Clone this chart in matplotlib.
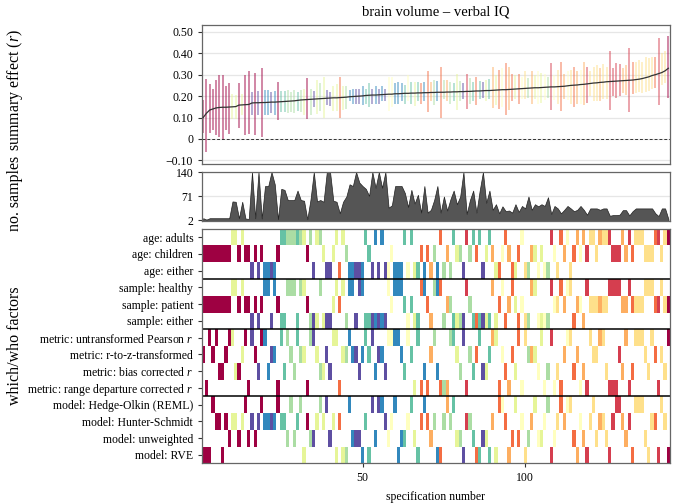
import numpy as np
import pandas as pd
import matplotlib
matplotlib.use("Agg")
import matplotlib.pyplot as plt

plt.rcParams["font.family"] = "serif"
plt.rcParams["font.serif"] = ["Liberation Serif", "DejaVu Serif"]
plt.rcParams["mathtext.fontset"] = "custom"
plt.rcParams["mathtext.rm"] = "Liberation Serif"
plt.rcParams["mathtext.it"] = "Liberation Serif:italic"
plt.rcParams["xtick.labelsize"] = 8.5
plt.rcParams["ytick.labelsize"] = 8.5

spec = np.arange(1, 145)

# summary effect (r) per specification, sorted
effect = [0.100, 0.120, 0.135, 0.140, 0.145, 0.147, 0.148, 0.148, 0.149, 0.150,
          0.151, 0.158, 0.159, 0.160, 0.161, 0.168, 0.169, 0.169, 0.170, 0.170,
          0.171, 0.172, 0.172, 0.173, 0.174, 0.175, 0.176, 0.177, 0.178, 0.180,
          0.182, 0.183, 0.184, 0.185, 0.186, 0.187, 0.188, 0.189, 0.190, 0.191,
          0.192, 0.192, 0.193, 0.194, 0.195, 0.197, 0.198, 0.199, 0.200, 0.201,
          0.203, 0.204, 0.205, 0.205, 0.206, 0.207, 0.208, 0.209, 0.209, 0.211,
          0.211, 0.212, 0.213, 0.213, 0.214, 0.214, 0.215, 0.215, 0.216, 0.216,
          0.217, 0.217, 0.218, 0.218, 0.218, 0.219, 0.219, 0.220, 0.220, 0.221,
          0.221, 0.222, 0.222, 0.223, 0.224, 0.224, 0.225, 0.226, 0.226, 0.227,
          0.228, 0.229, 0.230, 0.230, 0.231, 0.232, 0.233, 0.234, 0.235, 0.236,
          0.237, 0.238, 0.239, 0.239, 0.240, 0.241, 0.242, 0.243, 0.243, 0.244,
          0.245, 0.246, 0.248, 0.250, 0.251, 0.252, 0.254, 0.255, 0.257, 0.259,
          0.261, 0.262, 0.264, 0.265, 0.267, 0.268, 0.269, 0.270, 0.271, 0.272,
          0.273, 0.274, 0.275, 0.277, 0.279, 0.282, 0.286, 0.290, 0.296, 0.300,
          0.305, 0.310, 0.318, 0.330]

ci_lo = [0.03, -0.06, 0.03, 0.04, 0.02, 0.01, 0.00, 0.04, 0.025, 0.095,
         0.095, 0.05, 0.11, 0.02, 0.025, 0.11, 0.02, 0.11, 0.01, 0.11,
         0.11, 0.12, 0.11, 0.09, 0.125, 0.125, 0.12, 0.125, 0.12, 0.13,
         0.125, 0.11, 0.095, 0.11, 0.15, 0.115, 0.13, 0.10, 0.16, 0.155,
         0.13, 0.13, 0.10, 0.135, 0.14, 0.175, 0.165, 0.165, 0.165, 0.16,
         0.165, 0.15, 0.165, 0.165, 0.165, 0.175, 0.175, 0.13, 0.15, 0.165,
         0.165, 0.175, 0.165, 0.175, 0.165, 0.155, 0.175, 0.165, 0.175, 0.125,
         0.175, 0.16, 0.175, 0.10, 0.185, 0.175, 0.165, 0.175, 0.135, 0.175,
         0.185, 0.14, 0.165, 0.175, 0.16, 0.185, 0.19, 0.175, 0.185, 0.145,
         0.16, 0.14, 0.15, 0.11, 0.135, 0.175, 0.185, 0.165, 0.185, 0.185,
         0.19, 0.165, 0.185, 0.165, 0.17, 0.18, 0.19, 0.135, 0.18, 0.165,
         0.13, 0.185, 0.18, 0.165, 0.15, 0.165, 0.165, 0.16, 0.17, 0.20,
         0.175, 0.175, 0.175, 0.185, 0.185, 0.135, 0.20, 0.19, 0.20, 0.215,
         0.205, 0.125, 0.21, 0.215, 0.22, 0.215, 0.22, 0.225, 0.235, 0.24,
         0.16, 0.25, 0.26, 0.19]

ci_hi = [0.18, 0.28, 0.255, 0.235, 0.275, 0.30, 0.30, 0.245, 0.26, 0.21,
         0.205, 0.26, 0.21, 0.30, 0.315, 0.22, 0.31, 0.225, 0.33, 0.23,
         0.23, 0.22, 0.225, 0.265, 0.225, 0.225, 0.23, 0.22, 0.23, 0.22,
         0.23, 0.235, 0.285, 0.235, 0.225, 0.275, 0.26, 0.29, 0.23, 0.22,
         0.245, 0.255, 0.29, 0.245, 0.245, 0.23, 0.235, 0.235, 0.235, 0.245,
         0.235, 0.26, 0.235, 0.245, 0.235, 0.245, 0.235, 0.29, 0.29, 0.26,
         0.265, 0.26, 0.25, 0.30, 0.265, 0.265, 0.265, 0.26, 0.265, 0.315,
         0.265, 0.275, 0.27, 0.335, 0.275, 0.275, 0.265, 0.26, 0.305, 0.27,
         0.26, 0.305, 0.285, 0.265, 0.29, 0.27, 0.265, 0.275, 0.28, 0.335,
         0.30, 0.32, 0.33, 0.355, 0.335, 0.305, 0.30, 0.305, 0.29, 0.315,
         0.285, 0.315, 0.30, 0.315, 0.31, 0.305, 0.29, 0.355, 0.30, 0.32,
         0.36, 0.305, 0.315, 0.32, 0.335, 0.315, 0.32, 0.36, 0.335, 0.315,
         0.335, 0.345, 0.33, 0.35, 0.335, 0.41, 0.33, 0.355, 0.35, 0.33,
         0.345, 0.425, 0.36, 0.36, 0.368, 0.36, 0.384, 0.376, 0.384, 0.384,
         0.47, 0.40, 0.41, 0.48]

# number of samples per specification
n_samples = [8, 4, 8, 8, 8, 8, 8, 8, 8, 56,
             55, 8, 55, 7, 6, 140, 8, 140, 7, 100,
             100, 140, 105, 5, 92, 89, 60, 60, 60, 87,
             60, 58, 5, 62, 140, 56, 60, 55, 140, 140,
             58, 55, 22, 55, 70, 105, 100, 140, 110, 100,
             92, 72, 140, 95, 140, 95, 140, 38, 45, 100,
             100, 100, 80, 40, 89, 50, 75, 24, 100, 24,
             32, 60, 100, 24, 70, 30, 62, 87, 48, 70,
             140, 20, 60, 87, 24, 87, 140, 52, 87, 32,
             48, 22, 42, 28, 30, 24, 48, 26, 43, 36,
             70, 32, 48, 42, 48, 43, 68, 20, 43, 36,
             22, 32, 43, 36, 28, 32, 43, 32, 18, 36,
             36, 36, 32, 36, 36, 15, 17, 17, 18, 31,
             31, 16, 28, 36, 36, 36, 36, 36, 36, 22,
             14, 36, 36, 6]

# which/who factor levels per specification
age = [1, 1, 1, 1, 1, 1, 1, 1, 1, 0,
       0, 1, 0, 1, 1, 2, 1, 2, 1, 2,
       2, 2, 2, 1, 0, 0, 0, 0, 0, 0,
       0, 0, 1, 0, 2, 0, 0, 1, 2, 2,
       1, 0, 2, 0, 1, 2, 2, 2, 2, 2,
       0, 1, 2, 0, 2, 0, 2, 2, 1, 2,
       2, 2, 0, 2, 0, 2, 2, 1, 2, 1,
       2, 1, 2, 0, 2, 1, 2, 0, 1, 1,
       2, 0, 1, 0, 1, 0, 2, 1, 0, 1,
       2, 2, 1, 0, 1, 2, 2, 1, 0, 2,
       2, 1, 1, 2, 1, 2, 2, 0, 1, 2,
       0, 1, 0, 2, 1, 0, 1, 0, 1, 0,
       0, 1, 0, 0, 0, 0, 1, 1, 1, 0,
       1, 0, 1, 0, 0, 0, 1, 1, 1, 0,
       0, 1, 0, 0]

sample = [1, 1, 1, 1, 1, 1, 1, 1, 1, 0,
          0, 1, 0, 1, 1, 2, 1, 2, 1, 0,
          0, 2, 0, 1, 2, 2, 0, 0, 0, 2,
          0, 0, 1, 2, 2, 2, 0, 2, 2, 2,
          1, 0, 1, 0, 2, 0, 0, 2, 0, 0,
          2, 2, 2, 2, 2, 2, 2, 0, 1, 0,
          0, 0, 1, 2, 1, 2, 2, 0, 0, 1,
          2, 0, 0, 0, 2, 1, 1, 2, 2, 2,
          2, 0, 1, 2, 2, 2, 2, 2, 2, 0,
          2, 1, 0, 2, 1, 0, 1, 2, 1, 2,
          2, 0, 0, 2, 2, 2, 2, 0, 1, 1,
          0, 1, 0, 0, 2, 1, 1, 2, 0, 1,
          1, 1, 1, 1, 1, 0, 0, 0, 0, 1,
          1, 0, 1, 1, 1, 1, 0, 0, 0, 1,
          1, 0, 1, 1]

metric = [1, 3, 0, 1, 0, 2, 2, 1, 0, 0,
          2, 2, 1, 0, 3, 0, 1, 2, 0, 0,
          2, 1, 1, 3, 0, 2, 0, 1, 2, 0,
          1, 1, 3, 0, 0, 1, 2, 2, 1, 2,
          0, 0, 3, 1, 1, 0, 1, 1, 2, 1,
          0, 1, 0, 2, 1, 1, 2, 0, 0, 0,
          0, 1, 2, 0, 1, 3, 0, 3, 2, 3,
          1, 0, 2, 3, 3, 3, 0, 0, 1, 2,
          0, 3, 1, 2, 1, 0, 2, 2, 1, 0,
          0, 3, 1, 2, 3, 1, 2, 0, 3, 0,
          1, 1, 1, 2, 0, 3, 2, 0, 3, 2,
          3, 1, 0, 0, 2, 1, 3, 2, 3, 0,
          1, 1, 0, 0, 2, 3, 3, 3, 1, 2,
          0, 3, 2, 0, 0, 0, 1, 2, 0, 1,
          3, 1, 2, 0]

model = [3, 3, 3, 0, 1, 1, 3, 1, 2, 1,
         1, 2, 1, 0, 2, 1, 2, 1, 0, 1,
         1, 1, 1, 0, 1, 1, 2, 0, 2, 1,
         0, 3, 1, 2, 2, 1, 0, 1, 0, 2,
         1, 3, 1, 3, 3, 0, 2, 2, 2, 3,
         1, 3, 0, 2, 0, 0, 1, 2, 1, 0,
         3, 2, 2, 1, 0, 2, 3, 1, 0, 1,
         2, 1, 3, 3, 1, 0, 1, 0, 2, 2,
         3, 1, 1, 2, 3, 3, 2, 2, 3, 1,
         3, 0, 0, 1, 3, 2, 0, 2, 1, 3,
         2, 1, 0, 2, 2, 1, 0, 3, 2, 1,
         0, 1, 0, 0, 2, 3, 1, 2, 3, 1,
         0, 2, 1, 1, 2, 3, 1, 0, 0, 1,
         2, 1, 3, 0, 0, 0, 2, 3, 1, 1,
         3, 0, 1, 3]

row_labels = ["age: adults", "age: children", "age: either",
              "sample: healthy", "sample: patient", "sample: either",
              "metric: untransformed Pearson $r$", "metric: r-to-z-transformed",
              "metric: bias corrected $r$", "metric: range departure corrected $r$",
              "model: Hedge-Olkin (REML)", "model: Hunter-Schmidt",
              "model: unweighted", "model: RVE"]

groups = [age, sample, metric, model]
group_start = [0, 3, 6, 10]

# colour each specification by the rank of its number of samples
rank = pd.Series(n_samples).rank(method="average").values
frac = (rank - 1) / (len(rank) - 1)
cmap = plt.get_cmap("Spectral", 11)
colors = cmap(frac)
ci_colors = colors.copy()
ci_colors[:, 3] = 0.6

fig = plt.figure(figsize=(6.73, 5.04), dpi=100)
left, width = 0.2995, 0.696
ax1 = fig.add_axes([left, 0.675, width, 0.275])
ax2 = fig.add_axes([left, 0.5615, width, 0.0978])
ax3 = fig.add_axes([left, 0.0807, width, 0.4655])

# top: summary effects with confidence intervals
ax1.vlines(spec, ci_lo, ci_hi, colors=ci_colors, lw=1.1, zorder=2)
ax1.plot(spec, effect, color="#333333", lw=0.9, zorder=3)
ax1.axhline(0, color="#333333", lw=0.7, ls=(0, (3, 2)), zorder=1)
ax1.set_xlim(0.5, 144.5)
ax1.set_ylim(-0.116, 0.531)
yt = [-0.1, 0, 0.1, 0.2, 0.3, 0.4, 0.5]
ax1.set_yticks(yt)
ax1.set_yticklabels(["\u22120.10", "0", "0.10", "0.20", "0.30", "0.40", "0.50"])
ax1.set_xticks([])
ax1.yaxis.grid(True, color="#e6e6e6", lw=0.9)
ax1.set_axisbelow(True)
ax1.set_title("brain volume \u2013 verbal IQ", fontsize=10.5, pad=7)

# middle: number of samples
ax2.fill_between(spec, n_samples, 0, facecolor="#555555", edgecolor="#222222", lw=0.5, zorder=2)
ax2.set_xlim(0.5, 144.5)
ax2.set_ylim(0, 141)
ax2.set_yticks([2, 71, 140])
ax2.set_xticks([])
ax2.yaxis.grid(True, color="#e6e6e6", lw=0.9)
ax2.set_axisbelow(True)

# bottom: which/who factor matrix
for levels, start in zip(groups, group_start):
    rows = start + np.array(levels)
    ax3.bar(spec, 1, bottom=rows - 0.5, width=1, color=colors, lw=0)
for b in [2.5, 5.5, 9.5]:
    ax3.axhline(b, color="black", lw=1.1)
ax3.set_xlim(0.5, 144.5)
ax3.set_ylim(13.5, -0.5)
ax3.set_yticks(range(len(row_labels)))
ax3.set_yticklabels(row_labels)
ax3.set_xticks([50, 100])
ax3.set_xlabel("specification number", fontsize=8.5, labelpad=5)

for ax in [ax1, ax2, ax3]:
    for s in ax.spines.values():
        s.set_color("#666666")
        s.set_linewidth(0.9)
    ax.tick_params(length=3, width=0.8, color="#333333", pad=3)

fig.text(0.022, 1 - 90 / 504, "summary effect ($r$)", rotation=90, ha="center", va="center", fontsize=11.5)
fig.text(0.022, 1 - 193 / 504, "no. samples", rotation=90, ha="center", va="center", fontsize=11.5)
fig.text(0.022, 1 - 345.5 / 504, "which/who factors", rotation=90, ha="center", va="center", fontsize=11.5)

fig.savefig("out.png", dpi=100)
